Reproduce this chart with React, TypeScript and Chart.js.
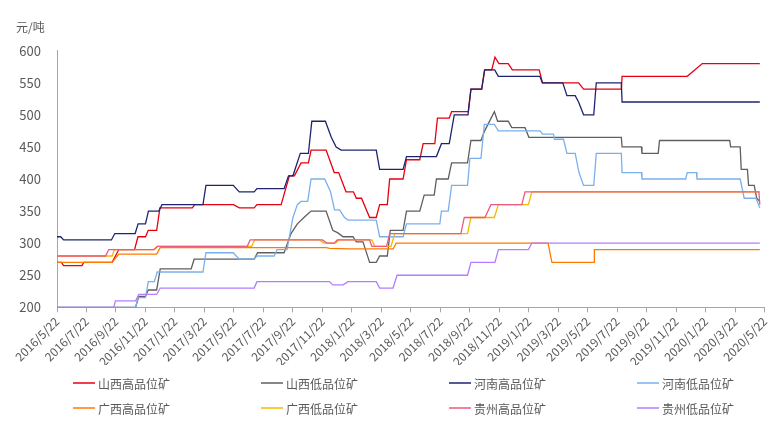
import { useEffect, useRef } from 'react';
import { Chart, registerables } from 'chart.js';

Chart.register(...registerables);

// x values are months since 2016/5/22 (one tick every two months)
const tickLabels = [
  '2016/5/22', '2016/7/22', '2016/9/22', '2016/11/22',
  '2017/1/22', '2017/3/22', '2017/5/22', '2017/7/22', '2017/9/22', '2017/11/22',
  '2018/1/22', '2018/3/22', '2018/5/22', '2018/7/22', '2018/9/22', '2018/11/22',
  '2019/1/22', '2019/3/22', '2019/5/22', '2019/7/22', '2019/9/22', '2019/11/22',
  '2020/1/22', '2020/3/22', '2020/5/22',
];

const seriesNames = [
  '山西高品位矿', '山西低品位矿', '河南高品位矿', '河南低品位矿',
  '广西高品位矿', '广西低品位矿', '贵州高品位矿', '贵州低品位矿',
];

const shanxiHigh: [number, number][] = [
  [0, 270], [0.3, 270], [0.45, 265], [1.7, 265], [1.81, 270], [3.74, 270], [4.19, 290], [5.26, 290],
  [5.49, 310], [6.0, 310], [6.19, 320], [6.76, 320], [6.98, 355], [9.18, 355], [9.34, 360], [11.97, 360],
  [12.36, 355], [13.37, 355], [13.56, 360], [15.2, 360], [15.76, 405], [16.1, 405], [16.55, 425], [17.05, 425],
  [17.23, 445], [18.25, 445], [18.8, 410], [19.1, 410], [19.6, 380], [20.1, 380], [20.3, 370], [20.65, 370],
  [21.2, 340], [21.65, 340], [21.88, 360], [22.4, 360], [22.56, 400], [23.47, 400], [23.7, 430], [24.6, 430],
  [24.83, 455], [25.62, 455], [25.8, 495], [26.6, 495], [26.76, 505], [27.89, 505], [28.07, 540], [28.8, 540],
  [29.0, 570], [29.48, 570], [29.7, 590], [29.97, 580], [30.6, 580], [30.88, 570], [32.7, 570], [32.92, 550],
  [35.37, 550], [35.71, 540], [38.27, 540], [38.32, 560], [42.74, 560], [43.76, 580], [47.66, 580],
];

const shanxiLow: [number, number][] = [
  [0, 200], [5.33, 200], [5.55, 217], [6.0, 217], [6.19, 227], [6.76, 227], [7.0, 260], [9.1, 260],
  [9.3, 275], [13.37, 275], [13.6, 285], [15.4, 285], [15.87, 315], [16.3, 330], [16.8, 341], [17.23, 350],
  [18.25, 350], [18.7, 320], [19.05, 316], [19.4, 310], [20.07, 310], [20.3, 302], [20.75, 302], [21.2, 270],
  [21.65, 270], [21.88, 280], [22.4, 280], [22.6, 320], [23.47, 320], [23.7, 350], [24.6, 350], [24.9, 375],
  [25.58, 375], [25.73, 400], [26.53, 400], [26.76, 425], [27.84, 425], [28.07, 460], [28.75, 460], [29.0, 475],
  [29.66, 505], [29.88, 490], [30.6, 490], [30.84, 480], [31.74, 480], [32.0, 465], [38.27, 465], [38.32, 450],
  [39.63, 450], [39.67, 440], [40.77, 440], [40.86, 460], [45.62, 460], [45.68, 450], [46.33, 450], [46.4, 415],
  [46.82, 415], [46.9, 390], [47.28, 390], [47.45, 370], [47.66, 365],
];

const henanHigh: [number, number][] = [
  [0, 310], [0.25, 310], [0.45, 305], [3.69, 305], [3.92, 315], [5.3, 315], [5.5, 330], [6.0, 330],
  [6.2, 350], [6.9, 350], [7.12, 360], [9.9, 360], [10.1, 390], [11.95, 390], [12.36, 380], [13.37, 380],
  [13.56, 385], [15.4, 385], [15.7, 405], [16.0, 405], [16.5, 440], [17.05, 440], [17.28, 490], [18.2, 490],
  [18.6, 465], [18.93, 450], [19.27, 445], [21.65, 445], [21.88, 415], [23.47, 415], [23.7, 435], [25.73, 435],
  [26.07, 455], [26.6, 455], [26.94, 500], [27.87, 500], [28.07, 540], [28.8, 540], [29.0, 570], [29.68, 570],
  [29.93, 560], [32.74, 560], [32.92, 550], [34.3, 550], [34.58, 530], [35.14, 530], [35.37, 520], [35.71, 500],
  [36.4, 500], [36.57, 550], [38.27, 550], [38.32, 520], [47.66, 520],
];

const henanLow: [number, number][] = [
  [0, 200], [5.33, 200], [5.49, 215], [6.0, 215], [6.19, 240], [6.6, 240], [6.8, 255], [9.9, 255],
  [10.1, 285], [11.95, 285], [12.36, 275], [13.37, 275], [13.56, 280], [14.73, 280], [14.92, 290], [15.6, 290],
  [16.0, 340], [16.3, 360], [16.55, 365], [17.0, 365], [17.23, 400], [18.15, 400], [18.55, 380], [18.82, 352],
  [19.16, 352], [19.5, 340], [19.73, 336], [21.65, 336], [21.88, 310], [23.47, 310], [23.7, 330], [25.96, 330],
  [26.07, 350], [26.53, 350], [26.76, 390], [27.84, 390], [28.0, 432], [28.75, 432], [28.98, 485], [29.66, 485],
  [29.93, 475], [32.76, 475], [32.92, 470], [33.67, 470], [33.74, 462], [34.35, 462], [34.58, 440], [35.14, 440],
  [35.4, 410], [35.71, 390], [36.4, 390], [36.57, 440], [38.27, 440], [38.32, 410], [39.63, 410], [39.67, 400],
  [42.63, 400], [42.74, 410], [43.37, 410], [43.4, 400], [46.33, 400], [46.6, 370], [47.4, 370], [47.66, 355],
];

const guangxiHigh: [number, number][] = [
  [0, 270], [3.74, 270], [4.19, 283], [6.76, 283], [7.0, 293], [18.25, 293], [18.5, 292], [19.9, 291],
  [22.8, 291], [23.0, 300], [33.3, 300], [33.56, 270], [36.42, 270], [36.44, 290], [47.66, 290],
];

const guangxiLow: [number, number][] = [
  [0, 280], [3.74, 280], [3.9, 290], [6.6, 290], [6.85, 295], [13.2, 295], [13.4, 305], [17.8, 305],
  [18.1, 300], [18.9, 300], [19.1, 305], [21.35, 305], [21.55, 295], [22.65, 295], [22.9, 315], [27.84, 315],
  [28.07, 340], [29.66, 340], [29.93, 360], [31.97, 360], [32.2, 380], [47.66, 380],
];

const guizhouHigh: [number, number][] = [
  [0, 280], [3.29, 280], [3.51, 290], [6.57, 290], [6.8, 295], [12.9, 295], [13.1, 305], [18.0, 305],
  [18.3, 300], [18.8, 300], [19.0, 305], [21.2, 305], [21.35, 295], [22.35, 295], [22.56, 315], [27.39, 315],
  [27.62, 340], [29.02, 340], [29.43, 360], [31.52, 360], [31.74, 380], [47.6, 380], [47.66, 360],
];

const guizhouLow: [number, number][] = [
  [0, 200], [3.85, 200], [3.96, 210], [5.33, 210], [5.55, 220], [6.76, 220], [7.0, 230], [13.37, 230],
  [13.56, 240], [18.48, 240], [18.7, 235], [19.4, 235], [19.73, 240], [21.65, 240], [21.88, 230], [22.79, 230],
  [23.06, 250], [27.84, 250], [28.07, 270], [29.7, 270], [29.93, 290], [31.97, 290], [32.2, 300], [47.66, 300],
];

const seriesData = [shanxiHigh, shanxiLow, henanHigh, henanLow, guangxiHigh, guangxiLow, guizhouHigh, guizhouLow];
const seriesColors = ['#E60012', '#5F5F5F', '#1E2470', '#79B0EC', '#FF7A00', '#F5B800', '#EC5A7E', '#B57CFF'];

const FONT = "'Noto Sans CJK SC', 'Noto Sans', sans-serif";
const TEXT = '#595959';
const AXIS = '#A6A6A6';

export default function App() {
  const ref = useRef<HTMLCanvasElement>(null);

  useEffect(() => {
    if (!ref.current) return;
    Chart.defaults.font.family = FONT;

    const legendPlugin = {
      id: 'customLegend',
      afterDraw(chart: any) {
        const ctx = chart.ctx as CanvasRenderingContext2D;
        ctx.save();
        ctx.font = `12px ${FONT}`;
        ctx.textBaseline = 'middle';
        ctx.textAlign = 'left';
        ctx.fillStyle = TEXT;
        ctx.fillText('元/吨', 16, 27);
        chart.data.datasets.forEach((ds: any, i: number) => {
          const col = i % 4;
          const row = Math.floor(i / 4);
          const x = 73 + col * 188;
          const y = 383 + row * 25;
          ctx.strokeStyle = ds.borderColor;
          ctx.lineWidth = 1.5;
          ctx.beginPath();
          ctx.moveTo(x, y);
          ctx.lineTo(x + 22, y);
          ctx.stroke();
          ctx.fillStyle = TEXT;
          ctx.fillText(ds.label, x + 25, y + 1);
        });
        ctx.restore();
      },
    };

    const chart = new Chart(ref.current, {
      type: 'line',
      data: {
        datasets: seriesData.map((d, i) => ({
          label: seriesNames[i],
          data: d,
          borderColor: seriesColors[i],
          backgroundColor: seriesColors[i],
          borderWidth: 1.3,
          pointRadius: 0,
          tension: 0,
          fill: false,
          order: 7 - i,
        })),
      },
      options: {
        animation: false,
        responsive: true,
        maintainAspectRatio: false,
        layout: { padding: { left: 10, right: 10, top: 50.7, bottom: 62 } },
        plugins: {
          legend: { display: false },
          tooltip: { enabled: false },
        },
        scales: {
          x: {
            type: 'linear',
            min: 0,
            max: 48,
            afterBuildTicks: (scale: any) => {
              scale.ticks = tickLabels.map((_, i) => ({ value: i * 2 }));
            },
            afterFit: (scale: any) => {
              scale.height = 57.7;
            },
            grid: { display: true, drawOnChartArea: false, drawTicks: true, tickLength: 5, color: AXIS },
            border: { display: true, color: AXIS, width: 1 },
            ticks: {
              autoSkip: false,
              minRotation: 45,
              maxRotation: 45,
              padding: 2,
              color: TEXT,
              font: { size: 12, family: FONT },
              callback: (v: any) => tickLabels[Math.round(Number(v) / 2)] ?? '',
            },
          },
          y: {
            min: 200,
            max: 600,
            afterFit: (scale: any) => {
              scale.width = 47;
            },
            grid: { display: false, drawTicks: false },
            border: { display: true, color: AXIS, width: 1 },
            ticks: {
              stepSize: 50,
              padding: 16,
              color: TEXT,
              font: { size: 13, family: FONT },
            },
          },
        },
      },
      plugins: [legendPlugin],
    });

    return () => chart.destroy();
  }, []);

  return (
    <div style={{ position: 'fixed', left: 0, top: 0, width: 777, height: 427, background: '#fff' }}>
      <canvas ref={ref} />
    </div>
  );
}
